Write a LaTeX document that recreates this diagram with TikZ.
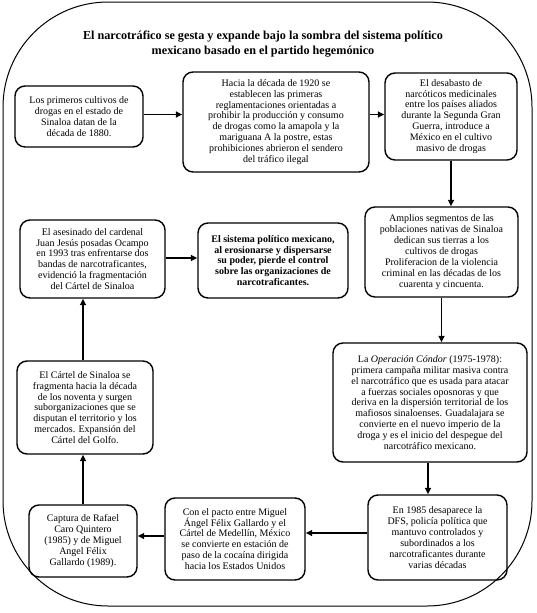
\documentclass[tikz,border=0pt]{standalone}
\usepackage{fontspec}
\setmainfont{Liberation Serif}
\usetikzlibrary{arrows.meta}
\begin{document}
\begin{tikzpicture}[x=1pt,y=-1pt,
  box/.style={draw,line width=1.4pt,rounded corners=10pt,align=center,
    inner sep=0pt,font=\fontsize{10}{10.9}\selectfont},
  arr/.style={line width=1.5pt,-{Triangle[length=6.5pt,width=6pt]}},
  ttl/.style={align=center,font=\bfseries\fontsize{12.2}{15}\selectfont}]
\useasboundingbox (0,0) rectangle (536,613);
\draw[line width=1pt,rounded corners=105pt] (3,2) rectangle (532,606);
\node[ttl] (T) at (263,44.5) {El narcotráfico se gesta y expande bajo la sombra del sistema político\\mexicano basado en el partido hegemónico};
\node[box,minimum width=128pt,minimum height=61pt] (A) at (79,116.5)
 {Los primeros cultivos de\\drogas en el estado de\\Sinaloa datan de la\\década de 1880.};
\node[box,minimum width=186pt,minimum height=100pt] (B) at (276,122)
 {Hacia la década de 1920 se\\establecen las primeras\\reglamentaciones orientadas a\\prohibir la producción y consumo\\de drogas como la amapola y la\\mariguana  A la postre, estas\\prohibiciones abrieron el sendero\\del tráfico ilegal};
\node[box,minimum width=132pt,minimum height=87pt] (C) at (451,116.5)
 {El desabasto de\\narcóticos medicinales\\entre los países aliados\\durante la Segunda Gran\\Guerra, introduce a\\México en el cultivo\\masivo de drogas};
\node[box,minimum width=153pt,minimum height=90pt] (D) at (441.5,252)
 {Amplios segmentos de las\\poblaciones nativas de Sinaloa\\dedican sus tierras a los\\cultivos de drogas\\Proliferacion de la violencia\\criminal en las décadas de los\\cuarenta y cincuenta.};
\node[box,minimum width=194pt,minimum height=119pt] (E) at (430,402.5)
 {La \textit{Operación Cóndor} (1975-1978):\\primera campaña militar masiva contra\\el narcotráfico que es usada para atacar\\a fuerzas sociales oposnoras y que\\deriva en la dispersión territorial de los\\mafiosos sinaloenses. Guadalajara se\\convierte en el nuevo imperio de la\\droga y es el inicio del despegue del\\narcotráfico mexicano.};
\node[box,minimum width=139pt,minimum height=85pt] (F) at (437.5,537.5)
 {En 1985 desaparece la\\DFS, policía política que\\mantuvo controlados y\\subordinados a los\\narcotraficantes durante\\varias décadas};
\node[box,minimum width=140pt,minimum height=82pt] (G) at (235,539)
 {Con el pacto entre Miguel\\Ángel Félix Gallardo y el\\Cártel de Medellín, México\\se convierte en estación de\\paso de la cocaína dirigida\\hacia los Estados Unidos};
\node[box,minimum width=108pt,minimum height=72pt] (H) at (83,541)
 {Captura de Rafael\\Caro Quintero\\(1985) y de Miguel\\Angel Félix\\Gallardo (1989).};
\node[box,minimum width=136pt,minimum height=93pt] (I) at (85,407.5)
 {El Cártel de Sinaloa se\\fragmenta hacia la década\\de los noventa  y surgen\\suborganizaciones que se\\disputan el territorio y los\\mercados. Expansión del\\Cártel del Golfo.};
\node[box,minimum width=145pt,minimum height=78pt] (J) at (92.5,259)
 {El asesinado del cardenal\\Juan Jesús posadas Ocampo\\en 1993 tras enfrentarse dos\\bandas de narcotraficantes,\\evidenció la fragmentación\\del Cártel de Sinaloa};
\node[box,minimum width=150pt,minimum height=75pt,font=\bfseries\fontsize{10}{10.9}\selectfont] (K) at (273,260.5)
 {El sistema político mexicano,\\al erosionarse y dispersarse\\su poder, pierde el control\\sobre las organizaciones de\\narcotraficantes.};
\draw[arr] ([yshift=2pt]A.east) -- ([yshift=2pt]A.east -| B.west);
\draw[arr] ([yshift=2pt]C.west -| B.east) -- ([yshift=2pt]C.west);
\draw[arr] (C.south) -- (C.south |- D.north);
\draw[arr] (D.south) -- (D.south |- E.north);
\draw[arr] ([xshift=-2pt]E.south) -- ([xshift=-2pt]E.south |- F.north);
\draw[arr] ([yshift=4.5pt]F.west) -- ([yshift=4.5pt]F.west -| G.east);
\draw[arr] ([yshift=3pt]G.west) -- ([yshift=3pt]G.west -| H.east);
\draw[arr] (H.north) -- (H.north |- I.south);
\draw[arr] ([xshift=-2pt]I.north) -- ([xshift=-2pt]I.north |- J.south);
\draw[arr] ([yshift=1pt]J.east) -- ([yshift=1pt]J.east -| K.west);
\end{tikzpicture}
\end{document}
